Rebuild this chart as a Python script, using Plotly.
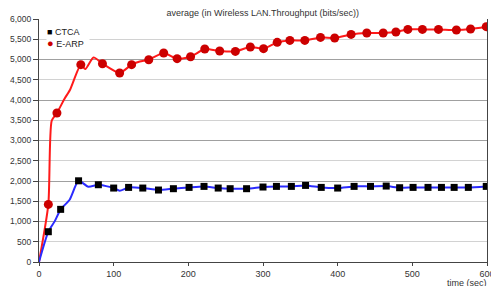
import plotly.graph_objects as go

# ---- data ----
ctca_line_t = [0, 12.5, 21, 29, 41, 53, 66, 79.5, 100, 108, 120, 139, 160, 180, 201, 221, 240, 256, 278,
               300, 318, 338, 357, 378, 400, 422, 444, 465, 483, 501, 521, 539, 556, 575, 599]
ctca_line_v = [0, 748, 1003, 1300, 1538, 2005, 1859, 1908, 1826, 1760, 1842, 1826, 1777, 1810, 1842, 1867, 1826, 1810, 1810,
               1851, 1867, 1867, 1891, 1842, 1826, 1867, 1867, 1875, 1834, 1842, 1842, 1842, 1842, 1842, 1867]

ctca_mark_t = [12.5, 29, 53, 79.5, 100, 120, 139, 160, 180, 201, 221, 240, 256, 278, 300, 318, 338, 357,
               378, 400, 422, 444, 465, 483, 501, 521, 539, 556, 575, 599]
ctca_mark_v = [748, 1300, 2005, 1908, 1826, 1842, 1826, 1777, 1810, 1842, 1867, 1826, 1810, 1810, 1851, 1867,
               1867, 1891, 1842, 1826, 1867, 1867, 1875, 1834, 1842, 1842, 1842, 1842, 1842, 1867]

earp_line_t = [0, 12.5, 17, 24, 34, 41.6, 56, 62, 73, 85, 108, 124, 135, 147, 167, 185, 203, 222, 242, 263,
               283, 300.7, 319, 336, 356, 377, 396, 418, 439, 461, 478, 494, 513.5, 535, 559, 578, 599]
earp_line_v = [0, 1422, 3489, 3679, 4025, 4254, 4872, 4765, 5052, 4896, 4667, 4872, 4950, 4995, 5160, 5020, 5069,
               5259, 5210, 5200, 5309, 5267, 5423, 5472, 5472, 5546, 5531, 5620, 5654, 5654, 5679, 5743, 5743,
               5743, 5728, 5753, 5810]

earp_mark_t = [12.5, 24, 56, 85, 108, 124, 147, 167, 185, 203, 222, 242, 263, 283, 300.7, 319, 336, 356, 377,
               396, 418, 439, 461, 478, 494, 513.5, 535, 559, 578, 599]
earp_mark_v = [1422, 3679, 4872, 4896, 4667, 4872, 4995, 5160, 5020, 5069, 5259, 5210, 5200, 5309, 5267, 5423,
               5472, 5472, 5546, 5531, 5620, 5654, 5654, 5679, 5743, 5743, 5743, 5728, 5753, 5810]

y_ticks = list(range(0, 6001, 500))
x_ticks = [0, 100, 200, 300, 400, 500, 600]

FONT = "Liberation Sans, Arial, sans-serif"

fig = go.Figure()
fig.add_trace(go.Scatter(x=earp_line_t, y=earp_line_v, mode="lines", showlegend=False,
                         line=dict(color="#ff1a1a", width=2, shape="spline", smoothing=0.6), hoverinfo="skip"))
fig.add_trace(go.Scatter(x=ctca_line_t, y=ctca_line_v, mode="lines", showlegend=False,
                         line=dict(color="#2b2bff", width=2, shape="spline", smoothing=0.6), hoverinfo="skip"))
fig.add_trace(go.Scatter(x=ctca_mark_t, y=ctca_mark_v, mode="markers", name="CTCA", showlegend=False,
                         marker=dict(symbol="square", size=7, color="#000000")))
fig.add_trace(go.Scatter(x=earp_mark_t, y=earp_mark_v, mode="markers", name="E-ARP", showlegend=False,
                         marker=dict(symbol="circle", size=9, color="#cc0000")))
# overlay axis carrying the darker 1000-step grid
fig.add_trace(go.Scatter(x=[0], y=[0], yaxis="y2", mode="markers", marker=dict(opacity=0),
                         showlegend=False, hoverinfo="skip"))

fig.update_layout(
    width=491, height=286,
    margin=dict(l=39, r=4, t=19, b=24),
    paper_bgcolor="white", plot_bgcolor="white",
    font=dict(family=FONT, size=9, color="#333333"),
    title=dict(text="average (in Wireless LAN.Throughput (bits/sec))", x=0.535, xanchor="center",
               y=1 - 13 / 286, yanchor="middle", font=dict(size=9, color="#333333")),
    xaxis=dict(range=[0, 600], tickvals=x_ticks, ticks="outside", ticklen=3, tickcolor="#444444",
               showline=True, linecolor="#444444", linewidth=1, showgrid=False, zeroline=False,
               tickfont=dict(size=9), automargin=False, ticklabeloverflow="allow"),
    yaxis=dict(range=[0, 6000], tickvals=y_ticks, tickformat=",", ticks="outside", ticklen=5,
               tickcolor="#444444", showline=True, linecolor="#444444", linewidth=1, mirror=True,
               gridcolor="#d2d2d2", gridwidth=1, zeroline=False, tickfont=dict(size=8.5), automargin=False),
    yaxis2=dict(range=[0, 6000], overlaying="y", side="left", dtick=1000, showticklabels=False,
                ticks="", showline=False, gridcolor="#a0a0a0", gridwidth=1, zeroline=False),
    showlegend=False,
)

fig.add_annotation(xref="paper", yref="paper", x=(46 - 39) / 448, y=(262 - 32.3) / 243,
                   xanchor="left", yanchor="middle", showarrow=False, align="left", borderpad=0,
                   text="<span style='color:#000000'>■</span> CTCA",
                   bgcolor="white", width=42, height=10, font=dict(size=9, color="#222222"))
fig.add_annotation(xref="paper", yref="paper", x=(46 - 39) / 448, y=(262 - 43.3) / 243,
                   xanchor="left", yanchor="middle", showarrow=False, align="left", borderpad=0,
                   text="<span style='font-size:11px;color:#cc0000'>●</span> E-ARP",
                   bgcolor="white", width=42, height=10, font=dict(size=9, color="#222222"))
fig.add_annotation(xref="paper", yref="paper", x=1.004, y=0, xanchor="right", yanchor="middle",
                   yshift=-21, showarrow=False, text="time (sec)", font=dict(size=9, color="#333333"))

fig.write_html("out.html", config={"displayModeBar": False},
               post_script="document.body.style.margin='0';")
